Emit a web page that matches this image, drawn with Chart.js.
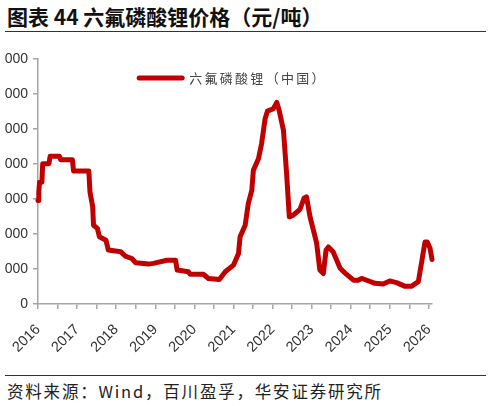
<!DOCTYPE html>
<html>
<head>
<meta charset="utf-8">
<script src="https://cdn.jsdelivr.net/npm/chart.js@4/dist/chart.umd.min.js"></script>
<style>
  body { margin: 0; width: 491px; height: 406px; overflow: hidden; background: #fff; position: relative; font-family: "Noto Sans CJK SC", sans-serif; }
  .title { position: absolute; left: 7px; top: 1px; font-size: 21px; font-weight: bold; color: #111; white-space: nowrap; }
  .rule { position: absolute; left: 5px; width: 481px; height: 0; border-top: 1.5px solid #333; }
  .src { position: absolute; left: 7px; top: 379px; font-size: 16.5px; color: #222; letter-spacing: 1.8px; white-space: nowrap; }
  #clip { position: absolute; left: 5px; top: 40px; width: 486px; height: 330px; overflow: hidden; }
  #box { position: absolute; left: -25px; top: 0; width: 511px; height: 330px; }
</style>
</head>
<body>
<div class="title">图表 44 六氟磷酸锂价格（元/吨）</div>
<div class="rule" style="top:31px"></div>
<div id="clip"><div id="box"><canvas id="c" width="511" height="330"></canvas></div></div>
<div class="rule" style="top:375px"></div>
<div class="src">资料来源：Wind，百川盈孚，华安证券研究所</div>
<script>
// 六氟磷酸锂（中国）价格，元/吨，按图读数（时间为小数年份）
const seriesName = '六氟磷酸锂（中国）';
const years = [
  2016.00, 2016.02, 2016.04, 2016.10, 2016.12, 2016.28, 2016.31, 2016.55, 2016.58, 2016.88,
  2016.91, 2017.30, 2017.33, 2017.40, 2017.42, 2017.52, 2017.57, 2017.74, 2017.80, 2018.12,
  2018.23, 2018.40, 2018.50, 2018.83, 2018.95, 2019.30, 2019.52, 2019.56, 2019.85, 2019.89,
  2020.23, 2020.36, 2020.64, 2020.79, 2021.00, 2021.13, 2021.17, 2021.30, 2021.38, 2021.47,
  2021.51, 2021.64, 2021.72, 2021.81, 2021.87, 2022.02, 2022.11, 2022.17, 2022.28, 2022.36,
  2022.43, 2022.53, 2022.70, 2022.81, 2022.87, 2022.96, 2023.13, 2023.21, 2023.30, 2023.37,
  2023.43, 2023.55, 2023.73, 2023.85, 2024.07, 2024.19, 2024.28, 2024.36, 2024.62, 2024.83,
  2025.00, 2025.17, 2025.38, 2025.56, 2025.73, 2025.81, 2025.90, 2025.96, 2026.03, 2026.08
];
const prices = [
  296000, 320000, 348000, 348000, 401000, 401000, 422000, 422000, 412000, 412000,
  380000, 380000, 320000, 277000, 225000, 216000, 192000, 182000, 154000, 149000,
  137000, 130000, 118000, 114000, 116000, 125000, 125000, 97000, 92000, 85000,
  85000, 73000, 70000, 92000, 111000, 144000, 192000, 225000, 287000, 325000,
  382000, 415000, 458000, 529000, 551000, 558000, 576000, 553000, 496000, 372000,
  249000, 254000, 270000, 303000, 306000, 249000, 173000, 97000, 87000, 154000,
  163000, 149000, 102000, 89000, 68000, 68000, 73000, 70000, 59000, 57000,
  66000, 61000, 51000, 51000, 64000, 116000, 177000, 177000, 159000, 127000
];
const yTicks = [0, 100000, 200000, 300000, 400000, 500000, 600000, 700000];
const xRange = [2016, 2026.08];

const lineColor = '#C00000';
const axisColor = '#a6a6a6';

// 图例画在绘图区上方居中
const innerLegend = {
  id: 'innerLegend',
  afterDatasetsDraw(chart) {
    const ctx = chart.ctx;
    const ca = chart.chartArea;
    const ds = chart.data.datasets[0];
    ctx.save();
    ctx.font = '13px "Noto Sans CJK SC"';
    ctx.letterSpacing = '2.3px';
    const tw = ctx.measureText(ds.label).width;
    const total = 43 + 7 + tw;
    const x0 = (ca.left + ca.right) / 2 - total / 2 - 2;
    const y = ca.top + 19;
    ctx.strokeStyle = ds.borderColor;
    ctx.lineWidth = 5;
    ctx.lineCap = 'round';
    ctx.beginPath();
    ctx.moveTo(x0, y);
    ctx.lineTo(x0 + 43, y);
    ctx.stroke();
    ctx.fillStyle = '#444';
    ctx.textBaseline = 'middle';
    ctx.fillText(ds.label, x0 + 50, y);
    ctx.restore();
  }
};

new Chart(document.getElementById('c'), {
  type: 'line',
  data: {
    datasets: [{
      label: seriesName,
      data: years.map((t, i) => ({ x: t, y: prices[i] })),
      borderColor: lineColor,
      borderWidth: 5,
      pointRadius: 0,
      tension: 0,
      borderJoinStyle: 'round',
      borderCapStyle: 'round',
      clip: false
    }]
  },
  options: {
    responsive: false,
    animation: false,
    layout: { padding: { top: 19, right: 59, bottom: 0, left: 0 } },
    plugins: { legend: { display: false }, tooltip: { enabled: false } },
    scales: {
      x: {
        type: 'linear',
        min: xRange[0],
        max: xRange[1],
        afterFit(s) { s.height = 66; },
        border: { color: axisColor, width: 1.5 },
        grid: { drawOnChartArea: false, tickLength: 5, color: axisColor, lineWidth: 1.5 },
        ticks: {
          stepSize: 0.5,
          includeBounds: false,
          autoSkip: false,
          minRotation: 45,
          maxRotation: 45,
          padding: 12,
          color: '#333',
          font: { family: 'Liberation Sans', size: 14.5 },
          callback: v => Number.isInteger(v) ? String(v) : ''
        }
      },
      y: {
        min: yTicks[0],
        max: yTicks[yTicks.length - 1],
        afterFit(s) { s.width = 58; },
        afterBuildTicks(s) { s.ticks = yTicks.map(v => ({ value: v })); },
        border: { color: axisColor, width: 1.5 },
        grid: { drawOnChartArea: false, tickLength: 5, color: axisColor, lineWidth: 1.5 },
        ticks: {
          padding: 5,
          color: '#333',
          font: { family: 'Liberation Sans', size: 14 },
          callback: v => String(v)
        }
      }
    }
  },
  plugins: [innerLegend]
});
</script>
</body>
</html>
